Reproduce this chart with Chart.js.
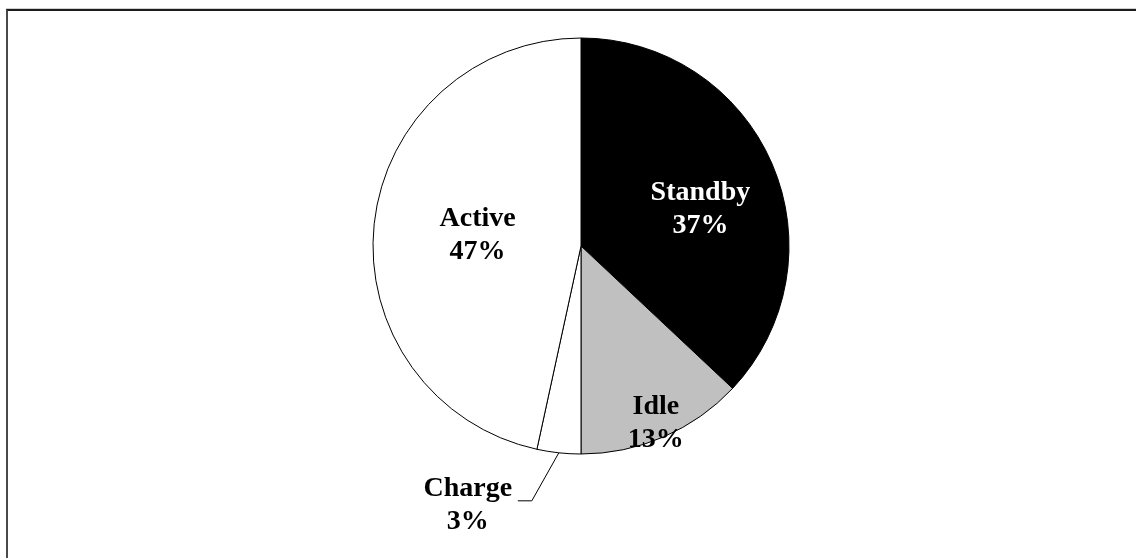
<!DOCTYPE html>
<html>
<head>
<meta charset="utf-8">
<script src="https://cdn.jsdelivr.net/npm/chart.js@4"></script>
<style>
  html, body { margin: 0; padding: 0; background: #fff; }
  #wrap { position: relative; width: 1136px; height: 558px; overflow: hidden; }
  #frame {
    position: absolute; left: 6px; top: 9px; right: -10px; bottom: -10px;
    border-top: 2px solid #1c1c1c; border-left: 2px solid #4a4a4a;
    box-shadow: 0 -1px 0 #d0d0d0;
  }
  canvas { position: absolute; left: 0; top: 0; }
</style>
</head>
<body>
<div id="wrap">
  <div id="frame"></div>
  <canvas id="pie" width="1136" height="558"></canvas>
</div>
<script>
// ---- Data ----
const categories = ['Standby', 'Idle', 'Charge', 'Active'];
const shares = [37, 13, 3.4, 46.6];
const sliceColors = ['#000000', '#c0c0c0', '#ffffff', '#ffffff'];
const labelColors = ['#ffffff', '#000000', '#000000', '#000000'];
// label placement along the slice bisector: fraction of radius + small angle nudge (deg)
// null radius = outside with a leader line
const labelRadius = [0.6, 0.925, null, 0.5];
const labelNudge = [6.5, 0.5, 0, 0];

const FONT = 'bold 28px "Liberation Serif", "Times New Roman", serif';
const LINE_H = 33;

// ---- Data labels ----
const pieLabels = {
  id: 'pieLabels',
  afterDatasetsDraw(chart) {
    const ctx = chart.ctx;
    const meta = chart.getDatasetMeta(0);
    const total = shares.reduce((a, b) => a + b, 0);
    ctx.save();
    ctx.font = FONT;
    ctx.textAlign = 'center';
    ctx.textBaseline = 'middle';
    meta.data.forEach((arc, i) => {
      const mid = (arc.startAngle + arc.endAngle) / 2 + labelNudge[i] * Math.PI / 180;
      const pct = Math.round(shares[i] / total * 100) + '%';
      const lines = [categories[i], pct];
      let cx, cy;
      if (labelRadius[i] !== null) {
        cx = arc.x + Math.cos(mid) * arc.outerRadius * labelRadius[i];
        cy = arc.y + Math.sin(mid) * arc.outerRadius * labelRadius[i];
      } else {
        // leader line from the rim
        const sx = arc.x + Math.cos(mid) * arc.outerRadius;
        const sy = arc.y + Math.sin(mid) * arc.outerRadius;
        const ex = sx - 27, ey = sy + 48;
        ctx.strokeStyle = '#000';
        ctx.lineWidth = 1;
        ctx.beginPath();
        ctx.moveTo(sx, sy);
        ctx.lineTo(ex, ey);
        ctx.lineTo(ex - 14, ey);
        ctx.stroke();
        cx = ex - 64;
        cy = ey + 4;
      }
      ctx.fillStyle = labelColors[i];
      lines.forEach((t, k) => {
        ctx.fillText(t, cx, cy + (k - (lines.length - 1) / 2) * LINE_H);
      });
    });
    ctx.restore();
  }
};

new Chart(document.getElementById('pie'), {
  type: 'pie',
  data: {
    labels: categories,
    datasets: [{
      data: shares,
      backgroundColor: sliceColors,
      borderColor: '#000000',
      borderWidth: 1,
      hoverOffset: 0
    }]
  },
  options: {
    responsive: false,
    animation: false,
    radius: 208,
    layout: { padding: { left: 373, right: 347, top: 38, bottom: 104 } },
    plugins: {
      legend: { display: false },
      tooltip: { enabled: false }
    }
  },
  plugins: [pieLabels]
});
</script>
</body>
</html>
